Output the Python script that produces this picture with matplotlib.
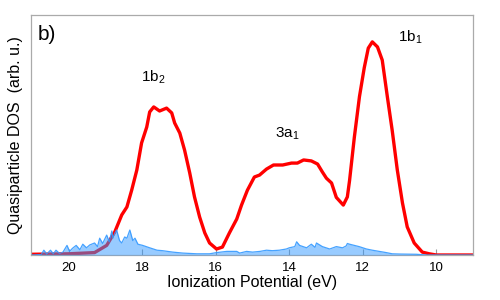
import numpy as np
import matplotlib
matplotlib.use('Agg')
import matplotlib.pyplot as plt

plt.rcParams['font.family'] = ['Liberation Sans', 'DejaVu Sans']
plt.rcParams['mathtext.fontset'] = 'custom'
plt.rcParams['mathtext.rm'] = 'Liberation Sans'
plt.rcParams['mathtext.it'] = 'Liberation Sans'

# quasiparticle DOS (red), energy in eV
red_e = [21.0, 20.0, 19.3, 18.97, 18.75, 18.56, 18.42, 18.29, 18.15, 18.02, 17.88,
         17.8, 17.69, 17.53, 17.34, 17.2, 17.12, 16.98, 16.85, 16.71, 16.58, 16.44,
         16.3, 16.17, 15.98, 15.82, 15.63, 15.43, 15.3, 15.14, 14.95, 14.81, 14.62,
         14.43, 14.18, 13.94, 13.78, 13.61, 13.4, 13.23, 13.1, 12.99, 12.85, 12.72,
         12.53, 12.42, 12.36, 12.23, 12.09, 11.96, 11.85, 11.74, 11.6, 11.47, 11.33,
         11.2, 11.06, 10.92, 10.79, 10.6, 10.38, 10.19, 10.0, 9.0]
red_v = [0.003, 0.005, 0.01, 0.04, 0.096, 0.167, 0.2, 0.27, 0.354, 0.467, 0.533,
         0.596, 0.617, 0.60, 0.612, 0.592, 0.55, 0.508, 0.437, 0.342, 0.242, 0.158,
         0.092, 0.05, 0.025, 0.033, 0.092, 0.15, 0.208, 0.27, 0.325, 0.333, 0.358,
         0.375, 0.375, 0.383, 0.383, 0.396, 0.392, 0.379, 0.346, 0.32, 0.30, 0.24,
         0.208, 0.242, 0.31, 0.49, 0.66, 0.78, 0.862, 0.888, 0.867, 0.812, 0.658,
         0.52, 0.354, 0.217, 0.117, 0.05, 0.012, 0.005, 0.0, 0.0]

# experimental spectrum (blue)
blue_e = [21.0, 20.75, 20.68, 20.6, 20.5, 20.42, 20.35, 20.25, 20.16, 20.05, 19.98, 19.9,
          19.8, 19.7, 19.62, 19.52, 19.43, 19.3, 19.22, 19.16, 19.08, 18.97, 18.9,
          18.83, 18.8, 18.75, 18.7, 18.62, 18.56, 18.48, 18.42, 18.34, 18.26, 18.2,
          18.12, 17.99, 17.8, 17.6, 17.45, 17.17, 16.9, 16.52, 16.17, 15.98, 15.7,
          15.43, 15.35, 15.16, 15.0, 14.8, 14.62, 14.46, 14.27, 14.08, 14.0, 13.85,
          13.8, 13.72, 13.53, 13.4, 13.3, 13.26, 13.1, 12.9, 12.72, 12.55, 12.45,
          12.42, 12.36, 12.23, 12.1, 11.9, 11.74, 11.55, 11.36, 11.2, 11.0, 10.54,
          10.27, 9.0]
blue_v = [0.0, 0.002, 0.02, 0.004, 0.02, 0.005, 0.02, 0.006, 0.012, 0.04, 0.015, 0.028,
          0.04, 0.022, 0.045, 0.03, 0.042, 0.05, 0.035, 0.07, 0.048, 0.083, 0.055,
          0.1, 0.07, 0.09, 0.104, 0.06, 0.05, 0.075, 0.07, 0.104, 0.06, 0.07,
          0.045, 0.04, 0.03, 0.02, 0.018, 0.012, 0.008, 0.005, 0.005, 0.01, 0.015,
          0.015, 0.008, 0.015, 0.012, 0.015, 0.02, 0.018, 0.02, 0.025, 0.03, 0.035,
          0.055, 0.04, 0.03, 0.045, 0.032, 0.05, 0.035, 0.025, 0.035, 0.03, 0.038,
          0.048, 0.045, 0.04, 0.035, 0.025, 0.02, 0.015, 0.01, 0.005, 0.004, 0.003,
          0.0, 0.0]

peak_labels = ['1b$_2$', '3a$_1$', '1b$_1$']
peak_pos = [(17.7, 0.74), (14.05, 0.505), (10.7, 0.905)]

fig = plt.figure(figsize=(5, 3), dpi=100)
ax = fig.add_axes([0.062, 0.15, 0.884, 0.8])

ax.plot(red_e, red_v, color='#ff0000', lw=2.4, zorder=2, solid_joinstyle='round')
ax.fill_between(blue_e, blue_v, 0, color='#3399ff', alpha=0.5, lw=0, zorder=3)
ax.plot(blue_e, blue_v, color='#3399ff', lw=0.9, alpha=0.9, zorder=3)

for lab, (x, y) in zip(peak_labels, peak_pos):
    ax.text(x, y, lab, fontsize=11, ha='center', va='center')
ax.text(0.015, 0.96, 'b)', transform=ax.transAxes, fontsize=15, ha='left', va='top')

ax.set_xlim(21.03, 9.0)
ax.set_ylim(0, 1.0)
ax.set_xticks([20, 18, 16, 14, 12, 10])
ax.set_yticks([])
ax.tick_params(axis='x', direction='in', length=4, color='#999999', labelsize=9.5, pad=5)
for s in ax.spines.values():
    s.set_color('#aaaaaa')
    s.set_linewidth(0.9)
ax.set_xlabel('Ionization Potential (eV)', fontsize=11.5, labelpad=1)
ax.set_ylabel('Quasiparticle DOS  (arb. u.)', fontsize=11.5, labelpad=6)

fig.savefig('out.png', dpi=100)
